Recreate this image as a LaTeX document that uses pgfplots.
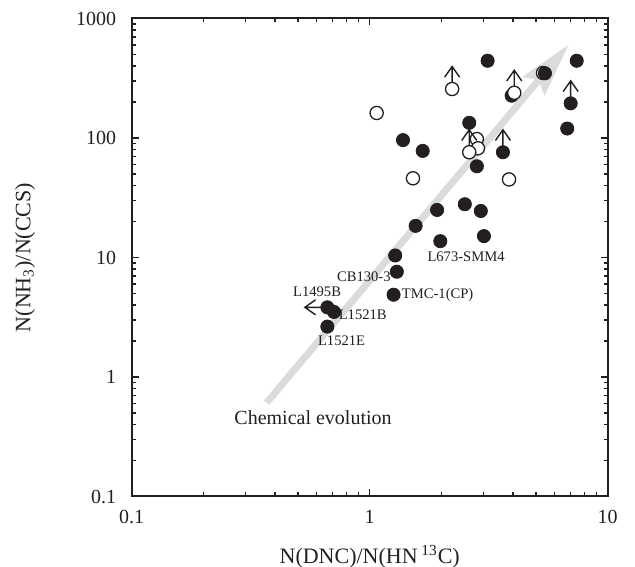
\documentclass[border=0pt]{standalone}
\usepackage{fontspec}
\setmainfont{Liberation Serif}
\usepackage{pgfplots}
\pgfplotsset{compat=1.18}
\usetikzlibrary{arrows.meta}
\definecolor{ink}{HTML}{231F20}
\definecolor{evo}{HTML}{DADBDB}

% upper / lower limit arrows, starting at the rim of the circle
\pgfdeclareplotmark{uparr}{%
  \pgfpathmoveto{\pgfqpoint{0pt}{3.25pt}}%
  \pgfpathlineto{\pgfqpoint{0pt}{11.25pt}}%
  \pgfpathmoveto{\pgfqpoint{-3.75pt}{5.9pt}}%
  \pgfpathlineto{\pgfqpoint{0pt}{11.25pt}}%
  \pgfpathlineto{\pgfqpoint{3.75pt}{5.9pt}}%
  \pgfusepathqstroke}
\pgfdeclareplotmark{leftarr}{%
  \pgfpathmoveto{\pgfqpoint{-3.25pt}{0pt}}%
  \pgfpathlineto{\pgfqpoint{-11.25pt}{0pt}}%
  \pgfpathmoveto{\pgfqpoint{-5.9pt}{3.75pt}}%
  \pgfpathlineto{\pgfqpoint{-11.25pt}{0pt}}%
  \pgfpathlineto{\pgfqpoint{-5.9pt}{-3.75pt}}%
  \pgfusepathqstroke}

\begin{document}
\begin{tikzpicture}
\begin{axis}[
  scale only axis, width=238pt, height=239pt,
  xmode=log, ymode=log,
  xmin=0.1, xmax=10, ymin=0.1, ymax=1000,
  log ticks with fixed point,
  /pgf/number format/1000 sep={},
  /pgf/number format/assume math mode=true,
  axis line style={ink, line width=1pt},
  major tick length=3.5pt, minor tick length=2pt,
  every tick/.style={ink, line width=0.6pt},
  tick label style={font=\fontsize{10}{12}\selectfont, text=ink},
  xticklabel style={yshift=-3.4pt},
  yticklabel style={xshift=-4.2pt},
  label style={font=\fontsize{11}{13}\selectfont, text=ink},
  xlabel={N(DNC)/N(HN\,\textsuperscript{13}C)},
  ylabel={N(NH\textsubscript{3})/N(CCS)},
  xlabel style={at={(axis description cs:0.5,-0.1255)}, anchor=center},
  ylabel style={at={(axis description cs:-0.2242,0.5)}, anchor=center},
  clip=false,
]
\coordinate (sw) at (rel axis cs:0,0);
\coordinate (ne) at (rel axis cs:1,1);

% chemical evolution arrow
\draw[evo, line width=3.5pt,
  -{Stealth[length=27pt, width=14.5pt, inset=4pt, line width=0pt]}]
  (axis cs:0.369,0.61) -- (axis cs:6.83,600);
\node[font=\fontsize{10}{12}\selectfont, text=ink] at (axis cs:0.578,0.454) {Chemical evolution};

% open circle hidden behind a filled one
\addplot[only marks, mark=*, mark size=3.3pt,
  mark options={draw=ink, fill=white, line width=0.65pt}]
  coordinates {(5.35,350)};

% detections (filled)
\addplot[only marks, mark=*, mark size=3.3pt,
  mark options={draw=ink, fill=ink}]
  coordinates {
  (3.13,443) (1.38,96) (1.67,78) (2.62,134) (2.82,58) (3.63,76)
  (3.95,226) (5.45,348) (7.41,443) (6.99,195) (6.76,120)
  (1.92,25) (2.51,27.9) (2.93,24.5) (1.56,18.4) (1.98,13.7) (3.02,15.1)
  (1.28,10.4) (1.30,7.6) (1.26,4.88)
  (0.664,3.83) (0.708,3.5) (0.664,2.64)
  };

% open circles
\addplot[only marks, mark=*, mark size=3.3pt,
  mark options={draw=ink, fill=white, line width=0.65pt}]
  coordinates {
  (1.07,162) (1.52,46) (2.82,98) (2.85,82) (3.85,45)
  (2.22,257) (2.62,76) (4.05,239)
  };

% lower limits in y
\addplot[only marks, mark=uparr, mark options={draw=ink, line width=0.7pt}]
  coordinates {(2.22,257) (2.62,76) (4.05,239) (3.63,76) (6.99,195)};
% upper limit in x
\addplot[only marks, mark=leftarr, mark options={draw=ink, line width=0.7pt}]
  coordinates {(0.664,3.83)};

% source names
\begin{scope}[every node/.style={font=\fontsize{7.3}{9}\selectfont, text=ink, inner sep=0pt}]
\node at (axis cs:0.601,5.14) {L1495B};
\node at (axis cs:0.935,3.35) {L1521B};
\node at (axis cs:0.762,2.0) {L1521E};
\node at (axis cs:0.945,6.87) {CB130-3};
\node at (axis cs:1.93,4.86) {TMC-1(CP)};
\node at (axis cs:2.54,10.1) {L673-SMM4};
\end{scope}
\end{axis}
\pgfresetboundingbox
\path[use as bounding box] ([xshift=-65.85pt,yshift=-35.25pt]sw) rectangle ([xshift=13.65pt,yshift=9.25pt]ne);
\end{tikzpicture}
\end{document}
